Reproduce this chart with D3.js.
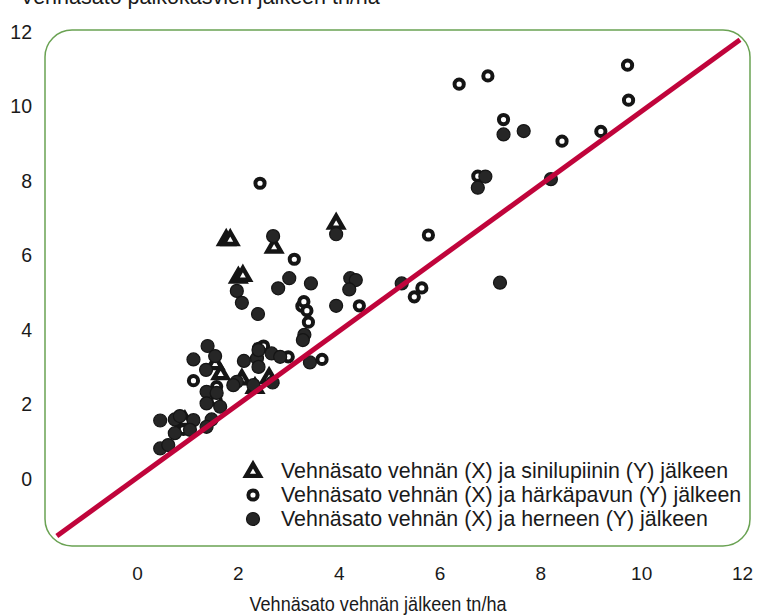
<!DOCTYPE html>
<html><head><meta charset="utf-8">
<script src="https://cdn.jsdelivr.net/npm/d3@7"></script>
<style>body{margin:0;background:#fff}svg{display:block}text{font-family:"Liberation Sans",Arial,sans-serif;fill:#1a1a1a}</style>
</head><body><svg id="c" width="760" height="616"></svg>
<script>
const xTicks = [0,2,4,6,8,10,12];
const yTicks = [0,2,4,6,8,10,12];
const seriesNames = [
  "Vehnäsato vehnän (X) ja sinilupiinin (Y) jälkeen",
  "Vehnäsato vehnän (X) ja härkäpavun (Y) jälkeen",
  "Vehnäsato vehnän (X) ja herneen (Y) jälkeen"
];
const yTitle = "Vehnäsato palkokasvien jälkeen tn/ha";
const xTitle = "Vehnäsato vehnän jälkeen tn/ha";
// 1:1 reference line end points
const refLine = [[-1.59,-1.53],[11.96,11.79]];
// sinilupiini (triangles)
const lupin = [
  [1.77,6.44],[1.85,6.44],[2.72,6.24],[3.95,6.88],[2.01,5.43],[2.10,5.48],
  [1.55,3.11],[1.66,2.84],[2.08,2.70],[2.62,2.74],[0.95,1.58],[2.34,2.47]
];
// härkäpapu (open circles)
const fababean = [
  [6.39,10.60],[6.96,10.82],[9.73,11.11],[9.75,10.17],[7.27,9.65],[8.43,9.07],
  [9.20,9.33],[6.76,8.13],[5.78,6.55],[5.65,5.13],[5.50,4.89],[2.44,7.94],
  [3.12,5.90],[3.27,4.64],[3.31,4.76],[3.37,4.52],[3.40,4.21],[4.41,4.65],
  [3.67,3.21],[3.00,3.28],[2.41,3.51],[2.51,3.57],[1.12,2.64],[1.58,2.48],
  [1.57,2.12],[0.92,1.33]
];
// herne (filled circles)
const pea = [
  [2.70,6.52],[3.95,6.57],[1.98,5.05],[2.08,4.73],[2.40,4.43],[2.80,5.12],
  [3.02,5.39],[3.45,5.25],[4.23,5.39],[4.34,5.34],[4.21,5.09],[3.95,4.65],
  [3.32,3.87],[3.29,3.73],[5.25,5.25],[7.20,5.27],[8.21,8.05],[6.76,7.82],
  [6.91,8.12],[7.27,9.25],[7.67,9.34],[1.40,3.57],[1.12,3.21],[1.55,3.30],
  [1.37,2.93],[1.38,2.34],[1.58,2.31],[1.38,2.03],[1.65,1.94],[1.98,2.61],
  [1.91,2.52],[2.12,3.17],[2.38,3.24],[2.41,3.46],[2.41,3.01],[2.67,3.37],
  [2.84,3.28],[3.43,3.13],[2.69,2.59],[2.31,2.52],[0.46,1.57],[0.75,1.60],
  [0.85,1.69],[1.12,1.58],[1.48,1.60],[0.75,1.23],[1.05,1.32],[1.38,1.40],
  [0.46,0.82],[0.62,0.91]
];

const svg = d3.select("#c");
const x = d3.scaleLinear().domain([0,12]).range([137,742]);
const y = d3.scaleLinear().domain([0,12]).range([479,32]);

// frame
svg.append("rect").attr("x",45).attr("y",30).attr("width",705).attr("height",516)
  .attr("rx",27).attr("ry",27).attr("fill","none").attr("stroke","#6aa253").attr("stroke-width",1.5);

// title (mostly cut off at top, as in the reference)
svg.append("text").attr("x",20).attr("y",3.5).attr("font-size",21.5).text(yTitle);

// axes
const xa = svg.append("g").attr("transform","translate(0,563)")
  .call(d3.axisBottom(x).tickValues(xTicks).tickSize(0).tickFormat(d3.format("d")));
xa.select(".domain").remove();
xa.selectAll("text").attr("font-size",19).attr("fill","#1a1a1a").attr("font-family","Liberation Sans, Arial, sans-serif");

const ya = svg.append("g").attr("transform","translate(35,0)")
  .call(d3.axisLeft(y).tickValues(yTicks).tickSize(0).tickFormat(d3.format("d")));
ya.select(".domain").remove();
ya.selectAll("text").attr("font-size",19.5).attr("fill","#1a1a1a").attr("font-family","Liberation Sans, Arial, sans-serif");

svg.append("text").attr("x",378).attr("y",611).attr("text-anchor","middle").attr("font-size",20.5)
  .attr("textLength",257).attr("lengthAdjust","spacingAndGlyphs").text(xTitle);

// markers
const tri = d3.symbol().type(d3.symbolTriangle).size(80);
function drawTri(g, px, py){
  g.append("path").attr("d",tri()).attr("transform",`translate(${px},${py+1})`)
    .attr("fill","#fff").attr("stroke","#151515").attr("stroke-width",4.4).attr("stroke-linejoin","miter");
}
function drawOpen(g, px, py){
  g.append("circle").attr("cx",px).attr("cy",py).attr("r",4.6)
    .attr("fill","#fff").attr("stroke","#151515").attr("stroke-width",4);
}
function drawFilled(g, px, py){
  g.append("circle").attr("cx",px).attr("cy",py).attr("r",6.5)
    .attr("fill","#262626").attr("stroke","#151515").attr("stroke-width",1.2);
}
const pts = svg.append("g");
fababean.forEach(d=>drawOpen(pts, x(d[0]), y(d[1])));
lupin.forEach(d=>drawTri(pts, x(d[0]), y(d[1])));
pea.forEach(d=>drawFilled(pts, x(d[0]), y(d[1])));

// reference line
svg.append("line").attr("x1",x(refLine[0][0])).attr("y1",y(refLine[0][1]))
  .attr("x2",x(refLine[1][0])).attr("y2",y(refLine[1][1]))
  .attr("stroke","#c0043b").attr("stroke-width",5);

// legend
const lg = svg.append("g");
const lx = 253, ly = [471,495,519];
drawTri(lg, lx, ly[0]);
drawOpen(lg, lx, ly[1]);
drawFilled(lg, lx, ly[2]);
seriesNames.forEach((s,i)=>{
  lg.append("text").attr("x",281).attr("y",ly[i]+7).attr("font-size",21.4).text(s);
});
</script></body></html>
